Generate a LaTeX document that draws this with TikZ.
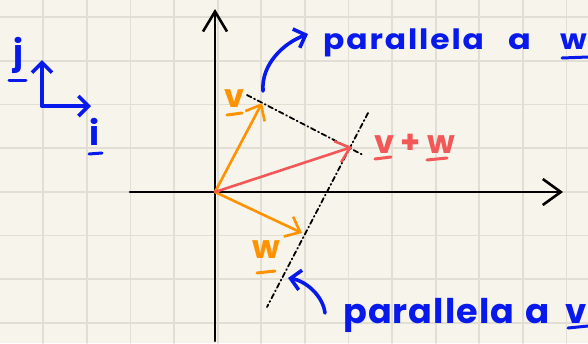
\documentclass[tikz,border=0pt]{standalone}
\usepackage{fontspec}
\usepackage{graphicx}
\setmainfont{Poppins}
\usetikzlibrary{arrows.meta}
\definecolor{paper}{RGB}{247,245,235}
\definecolor{gridc}{RGB}{225,223,211}
\definecolor{pblue}{RGB}{8,26,235}
\definecolor{porange}{RGB}{255,146,0}
\definecolor{pred}{RGB}{242,88,88}
\begin{document}
\begin{tikzpicture}[x=1pt,y=-1pt,line cap=round,line join=round,
  gridline/.style={draw=gridc,line width=1.8pt},
  axis/.style={draw=black,line width=2.6pt},
  vecline/.style={line width=2.6pt,-{Straight Barb[length=13pt,width=22pt,line width=2.6pt]}},
  dashline/.style={draw=black,line width=1.8pt,dash pattern=on 5pt off 3pt on 1pt off 3pt},
  bluearrow/.style={draw=pblue,line width=3.6pt,-{Straight Barb[length=10pt,width=20pt,line width=3.6pt]}},
  hand/.style={inner sep=0pt,font=\fontsize{32}{36}\selectfont\bfseries},
  tophand/.style={inner sep=0pt,text=pblue,anchor=base west,font=\fontsize{28}{32}\selectfont\bfseries\addfontfeature{LetterSpace=6}},
  bothand/.style={inner sep=0pt,text=pblue,anchor=base west,font=\fontsize{34}{38}\selectfont\bfseries\addfontfeature{LetterSpace=3}},
  ul/.style={line width=3pt}]
% background and grid
\useasboundingbox (0,0) rectangle (588,343);
\fill[paper] (0,0) rectangle (588,343);
\foreach \k in {0,...,12} {\draw[gridline] (43.3+43.6*\k,0) -- (43.3+43.6*\k,343);}
\foreach \k in {0,...,7} {\draw[gridline] (0,17+43.7*\k) -- (588,17+43.7*\k);}
% main axes
\coordinate (O) at (215,192);
\coordinate (ytop) at (215,9);
\coordinate (ybot) at (215,341);
\coordinate (xl) at (130,192);
\coordinate (xr) at (563,192);
\draw[axis,-{Straight Barb[length=20pt,width=24pt,line width=2.6pt]}] (ybot) -- (ytop);
\draw[axis,-{Straight Barb[length=18pt,width=26pt,line width=2.6pt]}] (xl) -- (xr);
% vectors
\coordinate (V) at (262,103);
\coordinate (W) at (302,233);
\coordinate (S) at (352,147);
% dashed parallels
\coordinate (d1a) at (247,95);
\coordinate (d1b) at (363,155);
\coordinate (d2a) at (368,113);
\coordinate (d2b) at (267,307);
\draw[dashline] (d1a) -- (d1b);
\draw[dashline] (d2a) -- (d2b);
\draw[vecline,draw=porange] (O) -- (V);
\draw[vecline,draw=porange] (O) -- (W);
\draw[vecline,draw=pred] (O) -- (S);
% vector labels
\node[hand,text=porange,anchor=base] (lv) at (234.5,107) {v};
\draw[ul,porange] (227,115) -- (242,113);
\node[hand,text=porange,anchor=base] (lw) at (266.5,258) {w};
\draw[ul,porange] (257,273) -- (275,271);
\node[hand,text=pred,anchor=base west] (lvw) at (374,153) {v + w};
\draw[ul,pred] (375,159) -- (391,157);
\draw[ul,pred] (427,160) -- (447,158);
% blue annotations
\coordinate (b1s) at (263,91);
\coordinate (b1e) at (308,34);
\draw[bluearrow] (b1s) .. controls (261,64) and (284,43) .. (b1e);
\coordinate (b2s) at (325,313);
\coordinate (b2e) at (288,278);
\draw[bluearrow] (b2s) .. controls (323,296) and (306,281) .. (b2e);
\node[tophand] (pw1) at (323,49) {\scalebox{1.12}[1]{parallela}};
\node[tophand] (pw2) at (508,49) {\scalebox{1.2}[1]{a}};
\node[tophand] (pw3) at (560,49) {\scalebox{1.1}[1]{w}};
\draw[ul,pblue] (562,58) -- (588,57);
\node[bothand] (pv1) at (343,323) {\scalebox{1.03}[1]{parallela}};
\node[bothand] (pv2) at (525,323) {\scalebox{1.05}[1]{a}};
\node[bothand] (pv3) at (565,323) {v};
\draw[ul,pblue] (568,328) -- (588,326);
% small basis axes
\coordinate (c) at (42,106);
\coordinate (cu) at (42,60);
\coordinate (cr) at (91,106);
\draw[bluearrow] (c) -- (cu);
\draw[bluearrow] (c) -- (cr);
\node[hand,text=pblue,anchor=base,font=\fontsize{34}{38}\selectfont\bfseries] (lj) at (18,64) {j};
\draw[ul,pblue] (9,80) -- (26,80);
\node[hand,text=pblue,anchor=base,font=\fontsize{34}{38}\selectfont\bfseries] (li) at (95,145) {i};
\draw[ul,pblue] (89,154) -- (102,153);
\end{tikzpicture}
\end{document}
